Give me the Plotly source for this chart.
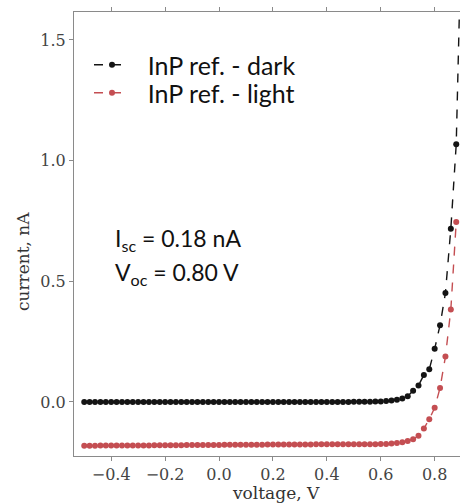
import plotly.graph_objects as go

voltage = [-0.50, -0.48, -0.46, -0.44, -0.42, -0.40, -0.38, -0.36, -0.34, -0.32,
           -0.30, -0.28, -0.26, -0.24, -0.22, -0.20, -0.18, -0.16, -0.14, -0.12,
           -0.10, -0.08, -0.06, -0.04, -0.02, 0.00, 0.02, 0.04, 0.06, 0.08,
           0.10, 0.12, 0.14, 0.16, 0.18, 0.20, 0.22, 0.24, 0.26, 0.28,
           0.30, 0.32, 0.34, 0.36, 0.38, 0.40, 0.42, 0.44, 0.46, 0.48,
           0.50, 0.52, 0.54, 0.56, 0.58, 0.60, 0.62, 0.64, 0.66, 0.68,
           0.70, 0.72, 0.74, 0.76, 0.78, 0.80, 0.82, 0.84, 0.86, 0.88, 0.90]

dark_current = [0.000] * 46 + [
    0.000, 0.000, 0.000, 0.000, 0.001, 0.001, 0.001, 0.001, 0.002, 0.002,
    0.004, 0.006, 0.009, 0.014, 0.024, 0.046, 0.068, 0.112, 0.135, 0.220,
    0.318, 0.452, 0.718, 1.068, 2.000]

light_current = [
    -0.182, -0.182, -0.182, -0.181, -0.181, -0.181, -0.181, -0.180, -0.180, -0.180,
    -0.180, -0.180, -0.180, -0.179, -0.179, -0.179, -0.179, -0.179, -0.179, -0.178,
    -0.178, -0.178, -0.178, -0.178, -0.178, -0.178, -0.177, -0.177, -0.177, -0.177,
    -0.177, -0.177, -0.177, -0.177, -0.176, -0.176, -0.176, -0.176, -0.176, -0.176,
    -0.176, -0.176, -0.176, -0.175, -0.175, -0.175, -0.175, -0.175, -0.175, -0.175,
    -0.175, -0.175, -0.175, -0.175, -0.175, -0.174, -0.174, -0.172, -0.170, -0.167,
    -0.162, -0.155, -0.140, -0.110, -0.072, -0.024, 0.058, 0.188, 0.383, 0.746]

series_names = ["InP ref. - dark", "InP ref. - light"]
annotation_lines = ["I<sub>sc</sub> = 0.18 nA", "V<sub>oc</sub> = 0.80 V"]
x_ticks = [-0.4, -0.2, 0.0, 0.2, 0.4, 0.6, 0.8]
y_ticks = [0.0, 0.5, 1.0, 1.5]

DARK = "#141414"
RED = "#c44e52"
SERIF = "DejaVu Serif"
SANS = "Lato"

W, H = 460, 503
PL, PR, PT, PB = 74, 460, 12, 456  # plot area in page pixels
PW, PH = PR - PL, PB - PT


def px(xp):
    return (xp - PL) / PW


def py(yp):
    return (PB - yp) / PH


NB = "\u00a0\u00a0"

fig = go.Figure()
fig.add_trace(go.Scatter(
    x=voltage, y=dark_current, name=NB + series_names[0], mode="lines+markers",
    line=dict(color=DARK, width=1.4, dash="dash"),
    marker=dict(color=DARK, size=6), legend="legend"))
fig.add_trace(go.Scatter(
    x=voltage[:len(light_current)], y=light_current, name=NB + series_names[1],
    mode="lines+markers",
    line=dict(color=RED, width=1.4, dash="dash"),
    marker=dict(color=RED, size=6), legend="legend2"))

axis_line = "#8a8a8a"
tick_font = dict(family=SERIF, size=16, color="#444444")
legend_font = dict(family=SANS, size=25, color="#111111")

fig.update_layout(
    width=W, height=H,
    margin=dict(l=PL, r=W - PR, t=PT, b=H - PB),
    plot_bgcolor="white", paper_bgcolor="white",
    showlegend=True,
    xaxis=dict(range=[-0.538, 0.894], tickvals=x_ticks, tickformat=".1f",
               showline=True, linecolor=axis_line, linewidth=1,
               ticks="outside", ticklen=4, tickcolor=axis_line, automargin=False,
               showgrid=False, zeroline=False, tickfont=tick_font),
    xaxis2=dict(range=[-0.538, 0.894], overlaying="x", side="top",
                matches="x", tickvals=x_ticks, automargin=False,
                showline=True, linecolor=axis_line, linewidth=1,
                ticks="outside", ticklen=4, tickcolor=axis_line,
                showticklabels=False, showgrid=False, zeroline=False),
    yaxis=dict(range=[-0.224, 1.616], tickvals=y_ticks, tickformat=".1f",
               showline=True, linecolor=axis_line, linewidth=1, automargin=False,
               ticks="outside", ticklen=4, tickcolor=axis_line,
               showgrid=False, zeroline=False, tickfont=tick_font),
    legend=dict(x=px(89), y=py(42), xanchor="left", yanchor="top",
                bgcolor="rgba(0,0,0,0)", font=legend_font, itemwidth=36),
    legend2=dict(x=px(89), y=py(70), xanchor="left", yanchor="top",
                 bgcolor="rgba(0,0,0,0)", font=legend_font, itemwidth=36),
)

# invisible trace so the top axis renders
fig.add_trace(go.Scatter(x=[voltage[0]], y=[dark_current[0]], xaxis="x2",
                         mode="markers", marker=dict(opacity=0),
                         showlegend=False, hoverinfo="skip"))

ann_font = dict(family=SANS, size=23, color="#111111")
fig.add_annotation(text=annotation_lines[0], xref="paper", yref="paper",
                   x=px(113), y=py(239), xanchor="left", yanchor="middle",
                   showarrow=False, font=ann_font)
fig.add_annotation(text=annotation_lines[1], xref="paper", yref="paper",
                   x=px(113), y=py(273), xanchor="left", yanchor="middle",
                   showarrow=False, font=ann_font)

title_font = dict(family=SERIF, size=17, color="#333333")
fig.add_annotation(text="voltage, V", xref="paper", yref="paper",
                   x=px(276), y=py(493), xanchor="center", yanchor="middle",
                   showarrow=False, font=title_font)
fig.add_annotation(text="current, nA", xref="paper", yref="paper",
                   x=px(23), y=py(262), xanchor="center", yanchor="middle",
                   showarrow=False, textangle=-90, font=title_font)

fig.write_html(
    "out.html",
    config={"displayModeBar": False},
    post_script=("document.documentElement.style.overflow='hidden';"
                 "document.body.style.margin='0';"
                 "document.body.style.overflow='hidden';"))
